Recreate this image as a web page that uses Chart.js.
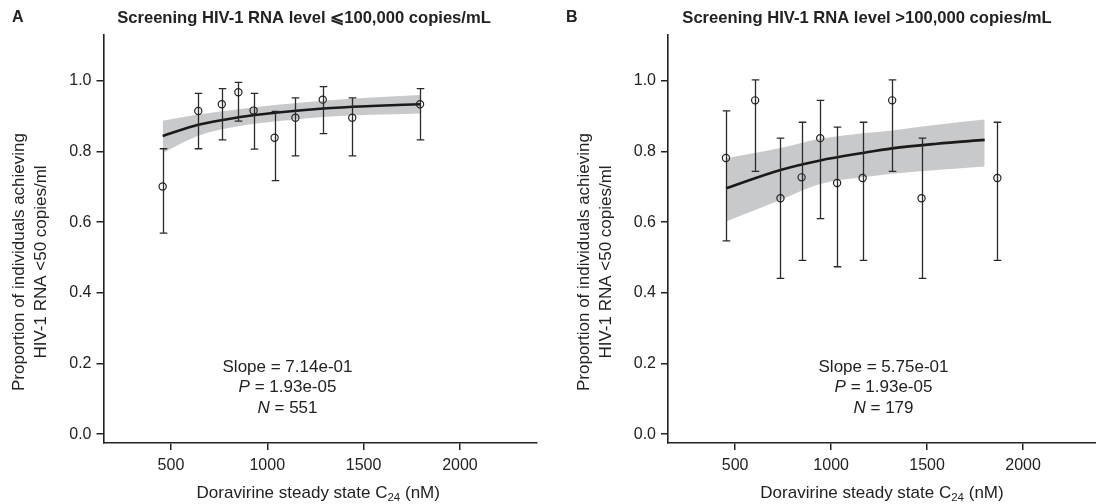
<!DOCTYPE html>
<html>
<head>
<meta charset="utf-8">
<script src="https://cdn.jsdelivr.net/npm/chart.js@4.4.0/dist/chart.umd.min.js"></script>
<style>
  html, body { margin: 0; padding: 0; background: #fff; }
  #wrap { position: relative; width: 1096px; height: 504px; }
  canvas { position: absolute; top: 0; }
</style>
</head>
<body>
<div id="wrap">
  <canvas id="chartA" width="548" height="504" style="left:0"></canvas>
  <canvas id="chartB" width="548" height="504" style="left:548px"></canvas>
</div>
<script>
// tick labels
const xTicks = [500, 1000, 1500, 2000]
const yTicks = [0, 0.2, 0.4, 0.6, 0.8, 1.0]

// panel A: screening HIV-1 RNA <= 100,000 copies/mL
const concA = [457, 642, 764, 850, 929, 1038, 1146, 1288, 1441, 1793]
const propA = [0.701, 0.915, 0.934, 0.968, 0.916, 0.839, 0.896, 0.947, 0.896, 0.934]
const lowA  = [0.569, 0.808, 0.833, 0.886, 0.807, 0.718, 0.788, 0.851, 0.788, 0.833]
const highA = [0.808, 0.965, 0.978, 0.996, 0.965, 0.914, 0.952, 0.984, 0.952, 0.978]
const fitConcA  = [457, 642, 850, 1040, 1290, 1540, 1793]
const fitA      = [0.844, 0.876, 0.897, 0.910, 0.922, 0.929, 0.934]
const bandLowA  = [0.796, 0.845, 0.872, 0.885, 0.898, 0.904, 0.908]
const bandHighA = [0.887, 0.905, 0.920, 0.932, 0.944, 0.953, 0.960]

// panel B: screening HIV-1 RNA > 100,000 copies/mL
const concB = [452, 604, 736, 846, 943, 1031, 1164, 1318, 1471, 1866]
const propB = [0.782, 0.945, 0.668, 0.727, 0.838, 0.711, 0.725, 0.945, 0.668, 0.725]
const lowB  = [0.547, 0.744, 0.441, 0.492, 0.610, 0.474, 0.492, 0.744, 0.441, 0.492]
const highB = [0.915, 1.003, 0.838, 0.883, 0.945, 0.869, 0.883, 1.003, 0.838, 0.883]
const fitConcB  = [452, 736, 943, 1164, 1318, 1550, 1800]
const fitB      = [0.696, 0.748, 0.775, 0.796, 0.809, 0.822, 0.833]
const bandLowB  = [0.602, 0.663, 0.708, 0.727, 0.737, 0.748, 0.758]
const bandHighB = [0.781, 0.810, 0.836, 0.852, 0.860, 0.876, 0.891]

const FONT = "'Liberation Sans', Arial, Helvetica, sans-serif"
const INK = '#222'

function xy(xs, ys) {
  return xs.map((x, i) => ({x, y: ys[i]}))
}

function makePanel(id, p) {
  const errorBars = {
    id: 'errorBars' + id,
    beforeDatasetDraw(chart, args) {
      if (args.index !== 3) return
      const {ctx} = chart
      const x = chart.scales.x, y = chart.scales.y
      ctx.save()
      ctx.strokeStyle = '#2a2a2a'
      ctx.lineWidth = 1.3
      p.conc.forEach((c, i) => {
        const px = Math.round(x.getPixelForValue(c)) + 0.5
        const top = y.getPixelForValue(p.high[i])
        const bot = y.getPixelForValue(p.low[i])
        ctx.beginPath()
        ctx.moveTo(px, top); ctx.lineTo(px, bot)
        ctx.moveTo(px - 3.8, top); ctx.lineTo(px + 3.8, top)
        ctx.moveTo(px - 3.8, bot); ctx.lineTo(px + 3.8, bot)
        ctx.stroke()
      })
      ctx.restore()
    }
  }

  const labels = {
    id: 'labels' + id,
    afterDraw(chart) {
      const {ctx, chartArea} = chart
      ctx.save()
      ctx.fillStyle = INK
      ctx.textBaseline = 'middle'

      // panel letter + title
      ctx.font = "bold 16px " + FONT
      ctx.textAlign = 'left'
      ctx.fillText(p.letter, p.letterX, 18)
      ctx.textAlign = 'center'
      ctx.font = "bold 16.6px " + FONT
      ctx.fillText(p.title, p.titleX, 18)

      // y axis title
      ctx.font = "17px " + FONT
      const midY = 262
      ctx.save()
      ctx.translate(p.yTitleX[0], midY)
      ctx.rotate(-Math.PI / 2)
      ctx.fillText('Proportion of individuals achieving', 0, 0)
      ctx.restore()
      ctx.save()
      ctx.translate(p.yTitleX[1], midY)
      ctx.rotate(-Math.PI / 2)
      ctx.fillText('HIV-1 RNA <50 copies/ml', 0, 0)
      ctx.restore()

      // x axis title with subscript
      const cx = (chartArea.left + chartArea.right) / 2 + p.xTitleShift
      const a = 'Doravirine steady state C', s = '24', b = ' (nM)'
      ctx.font = "17px " + FONT
      const wa = ctx.measureText(a).width, wb = ctx.measureText(b).width
      ctx.font = "11.5px " + FONT
      const ws = ctx.measureText(s).width
      const x0 = cx - (wa + ws + wb) / 2
      ctx.textAlign = 'left'
      ctx.font = "17px " + FONT
      ctx.fillText(a, x0, 493)
      ctx.font = "11.5px " + FONT
      ctx.fillText(s, x0 + wa, 498)
      ctx.font = "17px " + FONT
      ctx.fillText(b, x0 + wa + ws, 493)

      // statistics note
      const lines = [
        ['', 'Slope = ' + p.slope],
        ['P', ' = ' + p.pVal],
        ['N', ' = ' + p.n]
      ]
      lines.forEach((ln, i) => {
        const yy = 367 + i * 20.5
        ctx.font = "italic 17px " + FONT
        const wi = ctx.measureText(ln[0]).width
        ctx.font = "17px " + FONT
        const wr = ctx.measureText(ln[1]).width
        const start = p.noteX - (wi + wr) / 2
        ctx.font = "italic 17px " + FONT
        ctx.fillText(ln[0], start, yy)
        ctx.font = "17px " + FONT
        ctx.fillText(ln[1], start + wi, yy)
      })
      ctx.restore()
    }
  }

  return new Chart(document.getElementById(id), {
    type: 'scatter',
    data: {
      datasets: [
        {
          type: 'line',
          data: xy(p.fitConc, p.bandLow),
          borderWidth: 0,
          pointRadius: 0,
          fill: false,
          cubicInterpolationMode: 'monotone',
          order: 4
        },
        {
          type: 'line',
          data: xy(p.fitConc, p.bandHigh),
          borderWidth: 0,
          pointRadius: 0,
          backgroundColor: '#c8c9cb',
          fill: '-1',
          cubicInterpolationMode: 'monotone',
          order: 3
        },
        {
          type: 'line',
          data: xy(p.fitConc, p.fit),
          borderColor: '#1a1a1a',
          borderWidth: 2.6,
          pointRadius: 0,
          fill: false,
          cubicInterpolationMode: 'monotone',
          order: 2
        },
        {
          data: xy(p.conc, p.prop),
          pointRadius: 3.6,
          pointBorderWidth: 1.2,
          pointBorderColor: '#222',
          pointBackgroundColor: 'rgba(0,0,0,0)',
          showLine: false,
          order: 1
        }
      ]
    },
    options: {
      responsive: false,
      animation: false,
      devicePixelRatio: 1,
      layout: {autoPadding: false, padding: {left: p.padLeft, right: p.padRight, top: 35, bottom: 31}},
      plugins: {legend: {display: false}, tooltip: {enabled: false}},
      scales: {
        x: {
          type: 'linear',
          min: 150,
          max: p.xMax,
          afterBuildTicks: s => { s.ticks = xTicks.map(v => ({value: v})) },
          afterFit: s => { s.height = 30; s.paddingLeft = 0; s.paddingRight = 0 },
          grid: {drawOnChartArea: false, drawTicks: true, tickLength: 7, tickColor: INK, lineWidth: 1.5},
          border: {display: true, color: INK, width: 1.6},
          ticks: {color: INK, font: {family: FONT, size: 16}, padding: 6, maxRotation: 0,
                  callback: v => String(v)}
        },
        y: {
          type: 'linear',
          min: -0.025,
          max: 1.13,
          afterBuildTicks: s => { s.ticks = yTicks.map(v => ({value: v})) },
          afterFit: s => { s.width = 50 },
          grid: {drawOnChartArea: false, drawTicks: true, tickLength: 7, tickColor: INK, lineWidth: 1.5},
          border: {display: true, color: INK, width: 1.6},
          ticks: {color: INK, font: {family: FONT, size: 16}, padding: 5,
                  callback: v => v.toFixed(1)}
        }
      }
    },
    plugins: [errorBars, labels]
  })
}

makePanel('chartA', {
  conc: concA, prop: propA, low: lowA, high: highA,
  fitConc: fitConcA, fit: fitA, bandLow: bandLowA, bandHigh: bandHighA,
  xMax: 2400, padLeft: 53.5, padRight: 11,
  letter: 'A', letterX: 12, title: 'Screening HIV-1 RNA level \u2A7D100,000 copies/mL', titleX: 304,
  yTitleX: [19, 41], xTitleShift: -2,
  slope: '7.14e-01', pVal: '1.93e-05', n: '551', noteX: 287.5
})

makePanel('chartB', {
  conc: concB, prop: propB, low: lowB, high: highB,
  fitConc: fitConcB, fit: fitB, bandLow: bandLowB, bandHigh: bandHighB,
  xMax: 2380, padLeft: 70, padRight: 0,
  letter: 'B', letterX: 18, title: 'Screening HIV-1 RNA level >100,000 copies/mL', titleX: 319,
  yTitleX: [36, 58], xTitleShift: 0,
  slope: '5.75e-01', pVal: '1.93e-05', n: '179', noteX: 335.5
})
</script>
</body>
</html>
